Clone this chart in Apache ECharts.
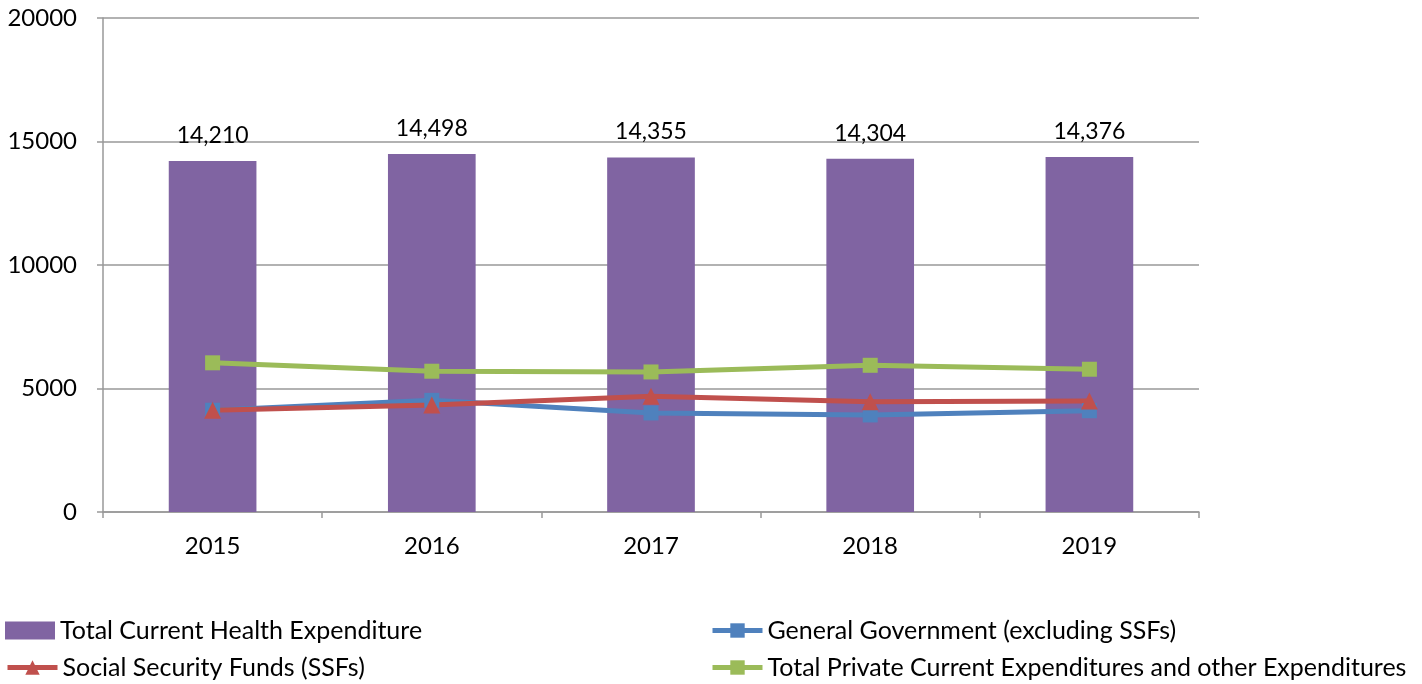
<!DOCTYPE html>
<html>
<head>
<meta charset="utf-8">
<script src="https://cdn.jsdelivr.net/npm/echarts@6/dist/echarts.min.js"></script>
<style>html,body{margin:0;padding:0;background:#fff;}#c{width:1422px;height:684px;}</style>
</head>
<body>
<div id="c"></div>
<script>
const years = ['2015','2016','2017','2018','2019'];
const totalCHE = [14210, 14498, 14355, 14304, 14376];
const generalGov = [4120, 4520, 4010, 3930, 4100];
const socialSecurity = [4120, 4330, 4690, 4460, 4490];
const privateExp = [6040, 5700, 5670, 5940, 5780];
const yTicks = [0, 5000, 10000, 15000, 20000];

const FONT = 'Lato, "Open Sans", sans-serif';
const chart = echarts.init(document.getElementById('c'));
const lineCommon = (name, data, color, symbol) => ({
  name, type: 'line', data, symbol, symbolSize: symbol === 'triangle' ? 17 : 15,
  lineStyle: { color, width: 5 }, itemStyle: { color }, z: 3
});
const mkLegend = (name, left, top, icon) => ({
  left, top, itemGap: 10, itemWidth: 50, itemHeight: 18,
  icon,
  lineStyle: { width: 5 },
  textStyle: { fontSize: 25, color: '#000', fontFamily: FONT },
  data: [name]
});
const names = ['Total Current Health Expenditure', 'General Government (excluding SSFs)',
  'Social Security Funds (SSFs)', 'Total Private Current Expenditures and other Expenditures'];
chart.setOption({
  animation: false,
  textStyle: { fontFamily: FONT },
  grid: { left: 103, right: 223, top: 18, bottom: 172 },
  legend: [
    mkLegend(names[0], 0, 613, 'rect'),
    mkLegend(names[2], 0, 650),
    mkLegend(names[1], 705, 613),
    mkLegend(names[3], 705, 650)
  ],
  xAxis: {
    type: 'category', data: years, boundaryGap: true,
    axisLine: { lineStyle: { color: '#999', width: 1.5 } },
    axisTick: { show: true, length: 6, lineStyle: { color: '#999', width: 1.5 } },
    axisLabel: { fontSize: 24, color: '#000', margin: 22, fontFamily: FONT }
  },
  yAxis: {
    type: 'value', min: yTicks[0], max: yTicks[yTicks.length - 1], interval: 5000,
    axisLine: { show: true, lineStyle: { color: '#999', width: 1.5 } },
    axisTick: { show: true, length: 6, lineStyle: { color: '#999', width: 1.5 } },
    splitLine: { lineStyle: { color: '#999', width: 1.5 } },
    axisLabel: { fontSize: 24, color: '#000', margin: 26, fontFamily: FONT, formatter: v => String(v) }
  },
  series: [
    { name: names[0], type: 'bar', data: totalCHE, barWidth: '40%',
      itemStyle: { color: '#8064A2' }, z: 2,
      label: { show: true, position: 'top', distance: 14, fontSize: 23, color: '#000', fontFamily: FONT,
        formatter: p => p.value.toLocaleString('en-US') } },
    lineCommon(names[1], generalGov, '#4F81BD', 'rect'),
    lineCommon(names[2], socialSecurity, '#C0504D', 'triangle'),
    lineCommon(names[3], privateExp, '#9BBB59', 'rect')
  ]
});
</script>
</body>
</html>
